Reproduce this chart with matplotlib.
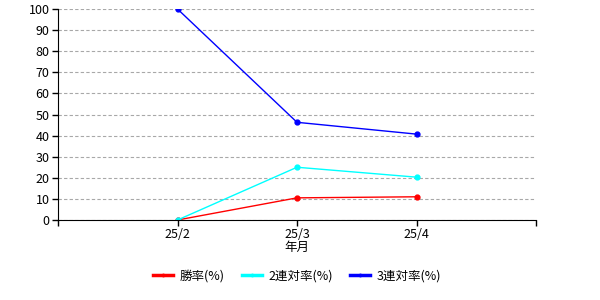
import matplotlib.pyplot as plt

plt.rcParams['font.family'] = ['Noto Sans CJK JP', 'DejaVu Sans']

# データ
months = ['25/2', '25/3', '25/4']
win = [0, 10.5, 11.0]
ren2 = [0, 25.0, 20.3]
ren3 = [100, 46.3, 40.7]

fig = plt.figure(figsize=(6, 3), dpi=100)
ax = fig.add_axes([58 / 600, 1 - 220 / 300, (536 - 58) / 600, (220 - 9) / 300])

x = range(1, len(months) + 1)
ax.plot(x, win, color='red', marker='o', markersize=3.5, lw=1, label='勝率(%)')
ax.plot(x, ren2, color='cyan', marker='o', markersize=3.5, lw=1, label='2連対率(%)')
ax.plot(x, ren3, color='blue', marker='o', markersize=3.5, lw=1, label='3連対率(%)')

ax.set_xlim(0, len(months) + 1)
ax.set_ylim(0, 100)
ax.set_xticks(range(0, len(months) + 2))
ax.set_xticklabels([''] + months + [''])
ax.set_yticks(range(0, 101, 10))
ax.tick_params(labelsize=9, length=4, width=1, pad=2)
ax.grid(axis='y', color='#a8a8a8', linestyle=(0, (3, 2)), linewidth=0.8)
ax.set_axisbelow(True)
for s in ['top', 'right']:
    ax.spines[s].set_visible(False)
ax.set_xlabel('年月', fontsize=9, labelpad=0)

leg = ax.legend(loc='center', bbox_to_anchor=(0.5, -0.265),
                ncol=3, frameon=False, fontsize=9, handlelength=1.6,
                handletextpad=0.5, columnspacing=1.4, markerscale=0.5)
for line in leg.get_lines():
    line.set_linewidth(2.5)

fig.savefig('out.png', dpi=100)
